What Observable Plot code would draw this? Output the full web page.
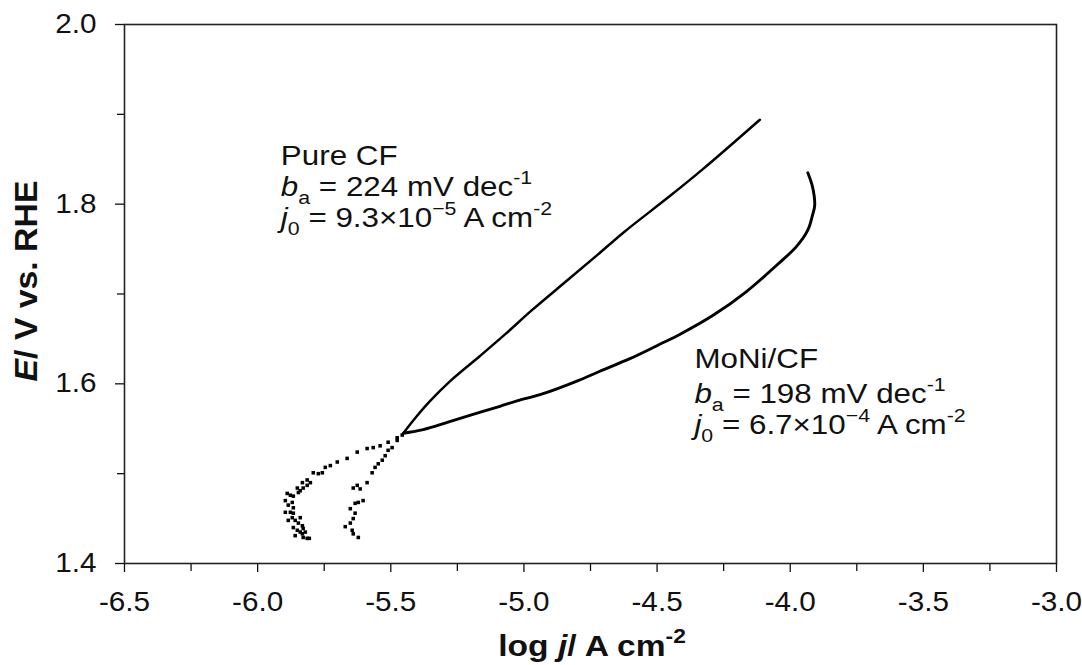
<!DOCTYPE html>
<html><head><meta charset="utf-8">
<script src="https://cdn.jsdelivr.net/npm/d3@7"></script>
<script src="https://cdn.jsdelivr.net/npm/@observablehq/plot@0.6"></script>
<style>body{margin:0;background:#fff} svg{display:block}</style>
</head><body><div id="chart"></div>
<script>
// Tick values
const xTicks = [-6.5, -6.0, -5.5, -5.0, -4.5, -4.0, -3.5, -3.0];
const xMinorTicks = [-6.25, -5.75, -5.25, -4.75, -4.25, -3.75, -3.25];
const yTicks = [1.4, 1.6, 1.8, 2.0];
const yMinorTicks = [1.5, 1.7, 1.9];

// Pure CF: [log j, E]
const pureDots = [
  [-5.622,1.429],[-5.641,1.433],[-5.645,1.437],[-5.671,1.441],[-5.652,1.445],[-5.641,1.450],
  [-5.634,1.456],[-5.652,1.461],[-5.634,1.467],[-5.622,1.468],[-5.604,1.470],[-5.615,1.483],
  [-5.641,1.484],[-5.626,1.487],[-5.589,1.490],[-5.570,1.501],[-5.559,1.507],[-5.547,1.511],
  [-5.532,1.515],[-5.521,1.520],[-5.510,1.526],[-5.495,1.529],[-5.476,1.537],[-5.457,1.543]
];
const pureCurve = [
  [-5.453,1.545],[-5.408,1.562],[-5.352,1.581],[-5.277,1.603],[-5.165,1.631],[-5.071,1.655],
  [-4.970,1.682],[-4.838,1.715],[-4.726,1.743],[-4.628,1.768],[-4.452,1.809],[-4.328,1.839],
  [-4.114,1.894]
];

// MoNi/CF: [log j, E]
const moniDots = [
  [-5.791,1.501],[-5.772,1.500],[-5.757,1.501],[-5.802,1.490],[-5.814,1.487],[-5.829,1.484],
  [-5.840,1.481],[-5.847,1.479],[-5.889,1.478],[-5.877,1.476],[-5.866,1.475],[-5.896,1.470],
  [-5.870,1.468],[-5.885,1.465],[-5.866,1.462],[-5.896,1.457],[-5.877,1.457],[-5.866,1.456],
  [-5.870,1.451],[-5.840,1.451],[-5.885,1.448],[-5.859,1.448],[-5.847,1.445],[-5.832,1.442],
  [-5.866,1.440],[-5.829,1.439],[-5.851,1.437],[-5.840,1.435],[-5.821,1.435],[-5.832,1.433],
  [-5.859,1.431],[-5.829,1.429],[-5.814,1.428],[-5.806,1.428],[-5.851,1.484],[-5.832,1.490],
  [-5.814,1.493],[-5.746,1.507],[-5.727,1.509],[-5.701,1.513],[-5.664,1.517],[-5.626,1.524],
  [-5.589,1.528],[-5.566,1.529],[-5.540,1.531],[-5.510,1.535],[-5.476,1.540]
];
const moniCurve = [
  [-5.453,1.545],[-5.378,1.549],[-5.288,1.557],[-5.191,1.566],[-5.090,1.575],[-5.026,1.581],
  [-4.928,1.589],[-4.801,1.603],[-4.715,1.614],[-4.602,1.628],[-4.490,1.644],[-4.415,1.655],
  [-4.291,1.676],[-4.163,1.703],[-4.051,1.732],[-3.976,1.753],[-3.934,1.771],[-3.916,1.788],
  [-3.908,1.799],[-3.916,1.819],[-3.934,1.835]
];

const FONT = "'Liberation Sans', Arial, sans-serif";
const STRETCH = 1.12;
const TICK_FS = 27;
const fmt = d => d.toFixed(1);

const chart = Plot.plot({
  width: 1082, height: 665,
  marginLeft: 124, marginRight: 26, marginTop: 24, marginBottom: 102,
  x: {domain: [-6.5, -3.0]},
  y: {domain: [1.4, 2.0]},
  style: {fontFamily: FONT, fontSize: "27px", color: "#111", background: "#fff"},
  marks: [
    Plot.axisX(xTicks, {tickSize: 9, tickPadding: 19, tickFormat: fmt, label: null, fontSize: TICK_FS, strokeWidth: 1.3}),
    Plot.axisX(xMinorTicks, {tickSize: 8, tickFormat: () => "", label: null, strokeWidth: 1.3}),
    Plot.axisY(yTicks, {tickSize: 9, tickPadding: 19, tickFormat: fmt, label: null, fontSize: TICK_FS, strokeWidth: 1.3}),
    Plot.axisY(yMinorTicks, {tickSize: 7, tickFormat: () => "", label: null, strokeWidth: 1.3}),
    Plot.frame({stroke: "#222", strokeWidth: 1.6}),
    Plot.line(pureCurve, {x: d => d[0], y: d => d[1], curve: "catmull-rom", stroke: "#000", strokeWidth: 2.5}),
    Plot.line(moniCurve, {x: d => d[0], y: d => d[1], curve: "catmull-rom", stroke: "#000", strokeWidth: 2.9}),
    Plot.dot(pureDots, {x: d => d[0], y: d => d[1], symbol: "square", r: 2, fill: "#000", stroke: "none"}),
    Plot.dot(moniDots, {x: d => d[0], y: d => d[1], symbol: "square", r: 2, fill: "#000", stroke: "none"})
  ]
});
document.getElementById("chart").append(chart);

const svg = d3.select(chart);
const sx = chart.scale("x"), sy = chart.scale("y");

// tick labels: explicit size and the reference's slightly wide glyphs
svg.selectAll("text").each(function () {
  if (!/^-?\d+\.\d$/.test(this.textContent.trim())) return;
  const t = this.getAttribute("transform") || "";
  const x = +this.getAttribute("x") || 0;
  this.setAttribute("x", 0);
  this.setAttribute("font-size", TICK_FS);
  this.setAttribute("transform", `${t} translate(${x},0) scale(1.1,1)`);
});

function rich(parent, x, y, parts, fs, extra = {}, scale = `scale(${STRETCH},1)`) {
  const t = parent.append("text")
    .attr("x", 0).attr("y", 0)
    .attr("transform", `translate(${x},${y}) ${scale}`)
    .attr("text-anchor", "start")
    .attr("font-family", FONT).attr("font-size", fs).attr("fill", "#111");
  for (const [k, v] of Object.entries(extra)) t.attr(k, v);
  let shift = 0;
  for (const p of parts) {
    const ts = t.append("tspan").text(p.t);
    const target = p.sub ? fs * 0.3 : p.sup ? -fs * 0.42 : 0;
    if (target !== shift) { ts.attr("dy", target - shift); shift = target; }
    if (p.sub || p.sup) ts.attr("font-size", fs * 0.68);
    if (p.i) ts.attr("font-style", "italic");
  }
  return t;
}

// Annotations
const afs = 28;
const pureX = sx.apply(-5.911);
rich(svg, pureX, 165, [{t: "Pure CF"}], afs);
rich(svg, pureX, 196, [{t: "b", i: true}, {t: "a", sub: true}, {t: " = 224 mV dec"}, {t: "-1", sup: true}], afs);
rich(svg, pureX, 227, [{t: "j", i: true}, {t: "0", sub: true}, {t: " = 9.3×10"}, {t: "−5", sup: true}, {t: " A cm"}, {t: "-2", sup: true}], afs);

const moniX = sx.apply(-4.358);
rich(svg, moniX, 368, [{t: "MoNi/CF"}], afs);
rich(svg, moniX, 403, [{t: "b", i: true}, {t: "a", sub: true}, {t: " = 198 mV dec"}, {t: "-1", sup: true}], afs);
rich(svg, moniX, 434, [{t: "j", i: true}, {t: "0", sub: true}, {t: " = 6.7×10"}, {t: "−4", sup: true}, {t: " A cm"}, {t: "-2", sup: true}], afs);

// Axis titles
rich(svg, 592, 656, [{t: "log "}, {t: "j", i: true}, {t: "/ A cm"}, {t: "-2", sup: true}], 30,
  {"text-anchor": "middle", "font-weight": "bold"});
rich(svg, 37, 281, [{t: "E", i: true}, {t: "/ V vs. RHE"}], 31,
  {"text-anchor": "middle", "font-weight": "bold"}, `rotate(-90) scale(1.09,1)`);
</script>
</body></html>
